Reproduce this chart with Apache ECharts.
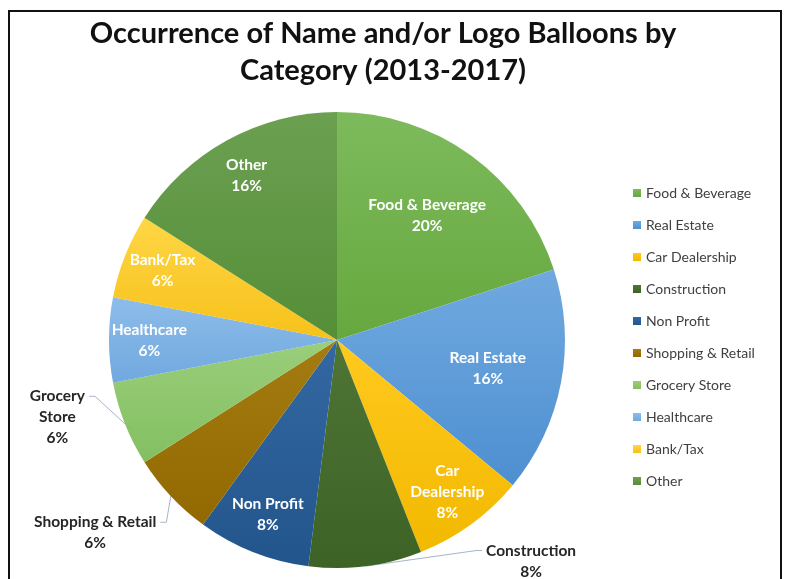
<!DOCTYPE html>
<html>
<head>
<meta charset="utf-8">
<script src="https://cdn.jsdelivr.net/npm/echarts@6/dist/echarts.min.js"></script>
<style>
  html, body { margin: 0; padding: 0; background: #ffffff; }
  #chart { width: 785px; height: 579px; }
</style>
</head>
<body>
<div id="chart"></div>
<script>
// Share of name and/or logo balloons per sponsor category, 2013-2017 (percent)
const categories = ['Food & Beverage', 'Real Estate', 'Car Dealership', 'Construction', 'Non Profit',
  'Shopping & Retail', 'Grocery Store', 'Healthcare', 'Bank/Tax', 'Other'];
const shares = [20, 16, 8, 8, 8, 6, 6, 6, 6, 16];

// top / bottom shade of each slice
const sliceColors = [
  ['#7dba5c', '#66a83e'],
  ['#70a9df', '#4e8fd1'],
  ['#ffc91f', '#f2b900'],
  ['#4f7535', '#3d6226'],
  ['#3468a2', '#22558b'],
  ['#a57c12', '#926900'],
  ['#9ace7b', '#83bf61'],
  ['#8dbde9', '#71a8df'],
  ['#ffd645', '#f6c11a'],
  ['#6ba051', '#558e37']
];

// slice names broken over two lines in the labels
const wrappedNames = { 'Car Dealership': 'Car\nDealership', 'Grocery Store': 'Grocery\nStore' };
// slices whose label sits outside the pie with a leader line
const outsideLabels = ['Construction', 'Shopping & Retail', 'Grocery Store'];
// slices whose inside label sits closer to the centre
const nearLabels = ['Food & Beverage', 'Real Estate'];

// nudges for the outside labels (pixels), applied after the pie lays them out
const outsideNudge = {
  'Grocery Store': [-14, -14],
  'Shopping & Retail': [-26, 23],
  'Construction': [128, -25]
};

const FONT = 'Lato, "Open Sans", sans-serif';
const CENTER = [337, 340];
const R = 228;
const LABEL_SIZE = 15.5;
const LINE_H = 21;

function labelFormatter(p) {
  return (wrappedNames[p.name] || p.name) + '\n' + p.value + '%';
}

function shade(i) {
  return {
    type: 'linear', x: 0, y: 0, x2: 0, y2: 1,
    colorStops: [
      { offset: 0, color: sliceColors[i][0] },
      { offset: 1, color: sliceColors[i][1] }
    ]
  };
}

const mainData = categories.map((name, i) => {
  const item = { name: name, value: shares[i], itemStyle: { color: shade(i) } };
  if (outsideLabels.includes(name)) {
    item.label = { show: true, position: 'outside' };
    item.labelLine = { show: true };
  }
  return item;
});

// move an outside label, centre its lines and re-route its leader line
// from the slice edge to the side of the label's first line
function placeOutsideLabel(p) {
  const nudge = outsideNudge[categories[p.dataIndex]];
  if (!nudge || !p.labelLinePoints) return {};
  const r = p.labelRect;
  const pts = p.labelLinePoints;
  const onLeft = pts[pts.length - 1][0] < pts[0][0];
  const centerX = (onLeft ? r.x + r.width : r.x) + nudge[0];
  const firstLineY = r.y + nudge[1] + LINE_H / 2;
  const side = onLeft ? 1 : -1;
  const endX = centerX + side * (r.width / 2 + 4);
  return {
    dx: nudge[0],
    dy: nudge[1],
    align: 'center',
    labelLinePoints: [pts[0], [endX + side * 6, firstLineY], [endX, firstLineY]]
  };
}

// transparent rings that carry the inside labels at the chosen radius
function labelRing(members, radius) {
  return {
    type: 'pie',
    center: CENTER,
    radius: radius,
    startAngle: 90,
    clockwise: true,
    silent: true,
    legendHoverLink: false,
    emphasis: { disabled: true },
    itemStyle: { color: 'rgba(0,0,0,0)' },
    labelLine: { show: false },
    label: {
      show: true,
      position: 'inside',
      formatter: labelFormatter,
      color: '#ffffff',
      fontFamily: FONT,
      fontWeight: 'bold',
      fontSize: LABEL_SIZE,
      lineHeight: LINE_H
    },
    data: categories.map((name, i) => ({
      name: name,
      value: shares[i],
      label: { show: members(name) }
    }))
  };
}

const chart = echarts.init(document.getElementById('chart'), null, { renderer: 'canvas' });

chart.setOption({
  backgroundColor: '#ffffff',
  animation: false,
  title: {
    text: 'Occurrence of Name and/or Logo Balloons by\nCategory (2013-2017)',
    left: 378,
    top: 10,
    textAlign: 'center',
    textStyle: {
      fontFamily: FONT,
      fontWeight: 'bold',
      fontSize: 29,
      lineHeight: 37,
      color: '#111111'
    }
  },
  legend: {
    orient: 'vertical',
    left: 628,
    top: 181,
    icon: 'rect',
    itemWidth: 8,
    itemHeight: 8,
    itemGap: 18,
    selectedMode: false,
    data: categories,
    textStyle: { fontFamily: FONT, fontSize: 14, color: '#404040' }
  },
  graphic: [{
    type: 'rect',
    silent: true,
    shape: { x: 9, y: 11, width: 772, height: 600 },
    style: { fill: 'none', stroke: '#111111', lineWidth: 2 }
  }],
  series: [
    {
      type: 'pie',
      center: CENTER,
      radius: R,
      startAngle: 90,
      clockwise: true,
      avoidLabelOverlap: false,
      emphasis: { scale: false },
      label: {
        show: false,
        formatter: labelFormatter,
        color: '#262626',
        fontFamily: FONT,
        fontWeight: 'bold',
        fontSize: LABEL_SIZE,
        lineHeight: LINE_H
      },
      labelLine: {
        show: false,
        length: 20,
        length2: 30,
        lineStyle: { color: '#a6b4c8', width: 1 }
      },
      labelLayout: placeOutsideLabel,
      data: mainData
    },
    labelRing(name => nearLabels.includes(name), [0.44 * R, 0.88 * R]),
    labelRing(name => !nearLabels.includes(name) && !outsideLabels.includes(name), [0.62 * R, R])
  ]
});
</script>
</body>
</html>
